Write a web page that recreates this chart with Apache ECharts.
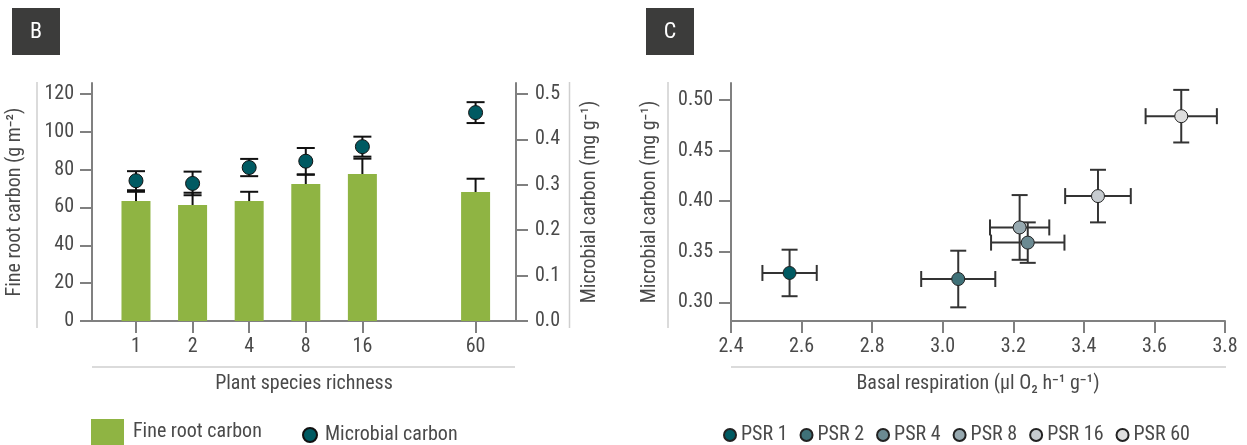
<!DOCTYPE html>
<html><head><meta charset="utf-8">
<script src="https://cdn.jsdelivr.net/npm/echarts@6/dist/echarts.min.js"></script>
<style>html,body{margin:0;padding:0;background:#fff}#c{width:1247px;height:445px}</style>
</head><body><div id="c"></div>
<script>
// ---------- Panel B data ----------
const richness = ['1', '2', '4', '8', '16', '', '60'];   // '' = gap slot on the axis
const fineRootCarbon = [63.4, 61.3, 63.4, 72.4, 77.7, null, 68.2];
const fineRootCarbonErr = [4.9, 6.5, 4.9, 4.9, 8.1, null, 7.0];
const microbialCarbon = [0.309, 0.303, 0.338, 0.352, 0.384, null, 0.459];
const microbialCarbonErr = [0.021, 0.026, 0.019, 0.029, 0.022, null, 0.023];
const bLeftTicks = [0, 20, 40, 60, 80, 100, 120];
const bRightTicks = [0, 0.1, 0.2, 0.3, 0.4, 0.5];

// ---------- Panel C data ----------
const psrNames = ['PSR 1', 'PSR 2', 'PSR 4', 'PSR 8', 'PSR 16', 'PSR 60'];
const psrColors = ['#005a62', '#3f7178', '#6b8a92', '#97a9b0', '#c6cbcf', '#dedede'];
const basalResp = [2.566, 3.044, 3.241, 3.218, 3.440, 3.676];
const basalRespErr = [0.077, 0.105, 0.104, 0.084, 0.093, 0.101];
const psrMicrobial = [0.329, 0.323, 0.359, 0.374, 0.405, 0.484];
const psrMicrobialErr = [0.023, 0.028, 0.020, 0.032, 0.026, 0.026];
const cYTicks = [0.30, 0.35, 0.40, 0.45, 0.50];

const FONT = "Roboto, 'DejaVu Sans Condensed', sans-serif";
const STRETCH = 'condensed';   // goes into the canvas font shorthand
const TXT = '#4a4a4a';
const AX = '#808080';
const FS = 20;
const TS = {color: TXT, fontSize: FS, fontFamily: FONT, fontWeight: STRETCH};

const chart = echarts.init(document.getElementById('c'), null, {renderer: 'canvas'});

const tickPositions = richness.map((r, i) => r === '' ? null : i).filter(v => v !== null);
const barData = fineRootCarbon.map((v, i) => v == null ? null : [i, v]).filter(Boolean);
const barErrData = fineRootCarbon.map((v, i) => v == null ? null : [i, v, fineRootCarbonErr[i]]).filter(Boolean);
const micData = microbialCarbon.map((v, i) => v == null ? null : [i, v]).filter(Boolean);
const micErrData = microbialCarbon.map((v, i) => v == null ? null : [i, v, microbialCarbonErr[i]]).filter(Boolean);

function axisBase(extra) {
  const base = {
    axisLine: {show: true, onZero: false, lineStyle: {color: AX, width: 2}},
    axisTick: {show: true, length: 12, lineStyle: {color: AX, width: 2}},
    axisLabel: Object.assign({}, TS),
    splitLine: {show: false},
    nameTextStyle: Object.assign({}, TS)
  };
  return Object.assign(base, extra);
}

const CAP_B = 9;
function upperErr(params, api) {
  const x = api.value(0), v = api.value(1), e = api.value(2);
  const p0 = api.coord([x, v]);
  const p1 = api.coord([x, v + e]);
  const st = {stroke: '#111', lineWidth: 2};
  return {type: 'group', children: [
    {type: 'line', shape: {x1: p0[0], y1: p0[1], x2: p1[0], y2: p1[1]}, style: st},
    {type: 'line', shape: {x1: p1[0] - CAP_B, y1: p1[1], x2: p1[0] + CAP_B, y2: p1[1]}, style: st}
  ]};
}
function bothErr(params, api) {
  const x = api.value(0), v = api.value(1), e = api.value(2);
  const p0 = api.coord([x, v - e]);
  const p1 = api.coord([x, v + e]);
  const st = {stroke: '#111', lineWidth: 2};
  return {type: 'group', children: [
    {type: 'line', shape: {x1: p0[0], y1: p0[1], x2: p1[0], y2: p1[1]}, style: st},
    {type: 'line', shape: {x1: p1[0] - CAP_B, y1: p1[1], x2: p1[0] + CAP_B, y2: p1[1]}, style: st},
    {type: 'line', shape: {x1: p0[0] - CAP_B, y1: p0[1], x2: p0[0] + CAP_B, y2: p0[1]}, style: st}
  ]};
}
const CAP_C = 8;
function xyErr(params, api) {
  const x = api.value(0), y = api.value(1), ex = api.value(2), ey = api.value(3);
  const l = api.coord([x - ex, y]), r = api.coord([x + ex, y]);
  const t = api.coord([x, y + ey]), b = api.coord([x, y - ey]);
  const st = {stroke: '#333', lineWidth: 2};
  return {type: 'group', children: [
    {type: 'line', shape: {x1: l[0], y1: l[1], x2: r[0], y2: r[1]}, style: st},
    {type: 'line', shape: {x1: l[0], y1: l[1] - CAP_C, x2: l[0], y2: l[1] + CAP_C}, style: st},
    {type: 'line', shape: {x1: r[0], y1: r[1] - CAP_C, x2: r[0], y2: r[1] + CAP_C}, style: st},
    {type: 'line', shape: {x1: t[0], y1: t[1], x2: b[0], y2: b[1]}, style: st},
    {type: 'line', shape: {x1: t[0] - CAP_C, y1: t[1], x2: t[0] + CAP_C, y2: t[1]}, style: st},
    {type: 'line', shape: {x1: b[0] - CAP_C, y1: b[1], x2: b[0] + CAP_C, y2: b[1]}, style: st}
  ]};
}

const sepStyle = {stroke: '#cfcfcf', lineWidth: 1.5};
function labelBox(x, letter) {
  return {type: 'group', left: x, top: 8, children: [
    {type: 'rect', shape: {x: 0, y: 0, width: 48, height: 47}, style: {fill: '#3c3c3b'}},
    {type: 'text', x: 24, y: 24, style: {text: letter, fill: '#fff', font: 'condensed 22px Roboto', align: 'center', verticalAlign: 'middle'}}
  ]};
}

const option = {
  animation: false,
  backgroundColor: '#fff',
  textStyle: {fontFamily: FONT},
  graphic: [
    labelBox(12, 'B'),
    labelBox(646, 'C'),
    {type: 'line', shape: {x1: 37, y1: 82, x2: 37, y2: 328}, style: sepStyle},
    {type: 'line', shape: {x1: 569.5, y1: 82, x2: 569.5, y2: 328}, style: sepStyle},
    {type: 'line', shape: {x1: 92, y1: 367, x2: 515, y2: 367}, style: sepStyle},
    {type: 'line', shape: {x1: 668, y1: 82, x2: 668, y2: 328}, style: sepStyle},
    {type: 'line', shape: {x1: 731, y1: 367, x2: 1226, y2: 367}, style: sepStyle}
  ],
  grid: [
    {left: 92, top: 83, width: 424, height: 238},
    {left: 731, top: 83, width: 494, height: 238}
  ],
  legend: [
    {data: ['Fine root carbon'], left: 91, top: 419, padding: 0, itemWidth: 33, itemHeight: 26, icon: 'rect',
     textStyle: Object.assign({}, TS, {padding: [0, 0, 0, 4]})},
    {data: ['Microbial carbon'], left: 302, top: 425, padding: 0, itemWidth: 14, itemHeight: 14, icon: 'circle',
     textStyle: Object.assign({}, TS, {padding: [0, 0, 0, 3]})},
    {data: psrNames, left: 723, top: 425, padding: 0, itemWidth: 12, itemHeight: 12, icon: 'circle', itemGap: 12,
     textStyle: Object.assign({}, TS)}
  ],
  xAxis: [
    axisBase({
      type: 'value', gridIndex: 0, min: -0.777, max: 6.714,
      name: 'Plant species richness', nameLocation: 'middle', nameGap: 53,
      axisTick: {show: true, length: 12, lineStyle: {color: AX, width: 2}, customValues: tickPositions},
      axisLabel: Object.assign({}, TS, {margin: 16, customValues: tickPositions,
                  formatter: v => richness[Math.round(v)]})
    }),
    axisBase({
      type: 'value', gridIndex: 1, min: 2.4, max: 3.8, interval: 0.2,
      name: 'Basal respiration (µl O₂ h⁻¹ g⁻¹)', nameLocation: 'middle', nameGap: 53,
      axisLabel: Object.assign({}, TS, {margin: 16, formatter: v => v.toFixed(1)})
    })
  ],
  yAxis: [
    axisBase({
      type: 'value', gridIndex: 0, min: 0, max: 125.8, position: 'left',
      name: 'Fine root carbon (g m⁻²)', nameLocation: 'middle', nameGap: 67,
      axisTick: {show: true, length: 12, lineStyle: {color: AX, width: 2}, customValues: bLeftTicks},
      axisLabel: Object.assign({}, TS, {margin: 18, customValues: bLeftTicks})
    }),
    axisBase({
      type: 'value', gridIndex: 0, min: 0, max: 0.5242, position: 'right',
      name: 'Microbial carbon (mg g⁻¹)', nameLocation: 'middle', nameGap: 64,
      axisTick: {show: true, length: 12, lineStyle: {color: AX, width: 2}, customValues: bRightTicks},
      axisLabel: Object.assign({}, TS, {margin: 19, customValues: bRightTicks, formatter: v => v.toFixed(1)})
    }),
    axisBase({
      type: 'value', gridIndex: 1, min: 0.2815, max: 0.5168, position: 'left',
      name: 'Microbial carbon (mg g⁻¹)', nameLocation: 'middle', nameGap: 71,
      axisTick: {show: true, length: 12, lineStyle: {color: AX, width: 2}, customValues: cYTicks},
      axisLabel: Object.assign({}, TS, {margin: 18, customValues: cYTicks, formatter: v => v.toFixed(2)})
    })
  ],
  series: [
    {name: 'Fine root carbon', type: 'bar', xAxisIndex: 0, yAxisIndex: 0, data: barData, barWidth: 29,
     itemStyle: {color: '#8fb443'}, z: 2},
    {type: 'custom', xAxisIndex: 0, yAxisIndex: 0, data: barErrData, renderItem: upperErr, z: 3, silent: true},
    {type: 'custom', xAxisIndex: 0, yAxisIndex: 1, data: micErrData, renderItem: bothErr, z: 4, silent: true},
    {name: 'Microbial carbon', type: 'scatter', xAxisIndex: 0, yAxisIndex: 1, data: micData, symbolSize: 14,
     itemStyle: {color: '#005a62', borderColor: '#111', borderWidth: 1, opacity: 1}, z: 5},
    {type: 'custom', xAxisIndex: 1, yAxisIndex: 2,
     data: basalResp.map((x, i) => [x, psrMicrobial[i], basalRespErr[i], psrMicrobialErr[i]]),
     renderItem: xyErr, z: 3, silent: true}
  ].concat(psrNames.map((n, i) => ({
    name: n, type: 'scatter', xAxisIndex: 1, yAxisIndex: 2,
    data: [[basalResp[i], psrMicrobial[i]]], symbolSize: 13,
    itemStyle: {color: psrColors[i], borderColor: '#222', borderWidth: 1, opacity: 1}, z: 5
  })))
};
chart.setOption(option);
</script></body></html>
